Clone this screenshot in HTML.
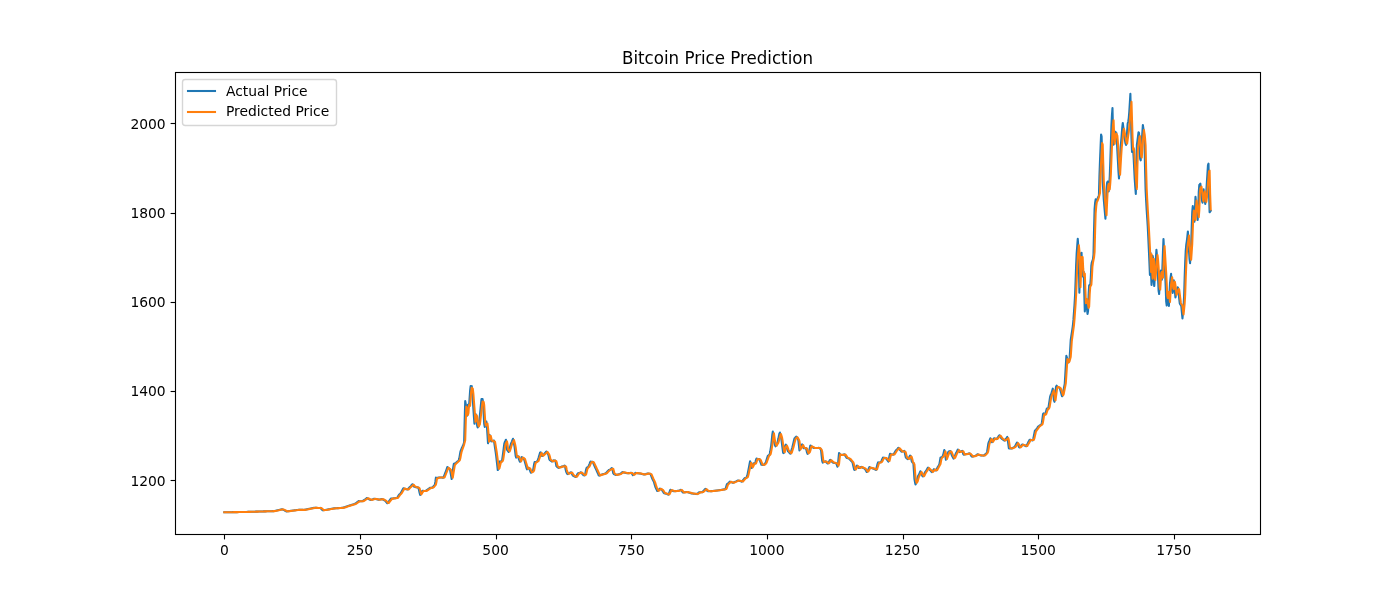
<!DOCTYPE html>
<html lang="en"><head><meta charset="utf-8"><title>Bitcoin Price Prediction</title>
<style>html,body{margin:0;padding:0;background:#fff;overflow:hidden}svg{display:block}text{font-family:"DejaVu Sans","Liberation Sans",sans-serif;fill:#000}</style></head><body>
<svg width="1400" height="600" viewBox="0 0 1400 600">
<rect width="1400" height="600" fill="#fff"/>
<clipPath id="c"><rect x="175" y="72" width="1085" height="462"/></clipPath>
<g clip-path="url(#c)" fill="none" stroke-width="2.083" stroke-linejoin="round" stroke-linecap="square">
<path stroke="#1f77b4" d="M224.32 512.28 L224.86 512.27 L225.40 512.26 L225.95 512.26 L226.49 512.25 L227.03 512.24 L227.57 512.23 L228.12 512.22 L228.66 512.22 L229.20 512.21 L229.74 512.20 L230.29 512.19 L230.83 512.19 L231.37 512.18 L231.91 512.17 L232.46 512.16 L233.00 512.15 L233.54 512.15 L234.08 512.14 L234.63 512.13 L235.17 512.12 L235.71 512.12 L236.25 512.11 L236.80 512.10 L237.34 512.09 L237.88 512.08 L238.42 512.08 L238.97 512.07 L239.51 512.06 L240.05 512.05 L240.59 512.05 L241.14 512.04 L241.68 512.03 L242.22 512.02 L242.77 512.02 L243.31 512.01 L243.85 512.00 L244.39 511.99 L244.94 511.97 L245.48 511.95 L246.02 511.94 L246.56 511.92 L247.11 511.90 L247.65 511.89 L248.19 511.87 L248.73 511.85 L249.28 511.84 L249.82 511.82 L250.36 511.80 L250.90 511.79 L251.45 511.77 L251.99 511.76 L252.53 511.74 L253.07 511.72 L253.62 511.71 L254.16 511.69 L254.70 511.67 L255.24 511.66 L255.79 511.64 L256.33 511.63 L256.87 511.61 L257.41 511.59 L257.96 511.58 L258.50 511.56 L259.04 511.54 L259.58 511.53 L260.13 511.51 L260.67 511.50 L261.21 511.48 L261.75 511.46 L262.30 511.45 L262.84 511.43 L263.38 511.41 L263.92 511.40 L264.47 511.38 L265.01 511.37 L265.55 511.35 L266.09 511.33 L266.64 511.32 L267.18 511.30 L267.72 511.28 L268.27 511.27 L268.81 511.25 L269.35 511.24 L269.89 511.22 L270.44 511.20 L270.98 511.19 L271.52 511.17 L272.06 511.16 L272.61 511.14 L273.15 511.13 L273.69 511.12 L274.23 511.05 L274.78 510.92 L275.32 510.79 L275.86 510.67 L276.40 510.55 L276.95 510.43 L277.49 510.31 L278.03 510.19 L278.57 510.08 L279.12 509.96 L279.66 509.84 L280.20 509.71 L280.74 509.57 L281.29 509.42 L281.83 509.25 L282.37 509.30 L282.91 509.60 L283.46 509.89 L284.00 510.17 L284.54 510.43 L285.08 510.69 L285.63 510.96 L286.17 511.24 L286.71 511.45 L287.25 511.35 L287.80 511.26 L288.34 511.18 L288.88 511.10 L289.42 511.03 L289.97 510.95 L290.51 510.88 L291.05 510.81 L291.59 510.74 L292.14 510.67 L292.68 510.59 L293.22 510.52 L293.77 510.45 L294.31 510.38 L294.85 510.31 L295.39 510.23 L295.94 510.16 L296.48 510.08 L297.02 510.01 L297.56 509.92 L298.11 509.87 L298.65 509.88 L299.19 509.89 L299.73 509.90 L300.28 509.90 L300.82 509.90 L301.36 509.90 L301.90 509.90 L302.45 509.90 L302.99 509.91 L303.53 509.92 L304.07 509.89 L304.62 509.77 L305.16 509.66 L305.70 509.54 L306.24 509.43 L306.79 509.32 L307.33 509.22 L307.87 509.11 L308.41 509.00 L308.96 508.89 L309.50 508.78 L310.04 508.67 L310.58 508.56 L311.13 508.46 L311.67 508.35 L312.21 508.24 L312.75 508.13 L313.30 508.01 L313.84 507.88 L314.38 507.75 L314.92 507.79 L315.47 507.83 L316.01 507.87 L316.55 507.90 L317.09 507.93 L317.64 507.96 L318.18 507.99 L318.72 508.00 L319.27 507.99 L319.81 507.96 L320.35 507.91 L320.89 508.45 L321.44 509.07 L321.98 509.65 L322.52 510.22 L323.06 510.24 L323.61 510.14 L324.15 510.06 L324.69 510.00 L325.23 509.94 L325.78 509.88 L326.32 509.78 L326.86 509.68 L327.40 509.58 L327.95 509.48 L328.49 509.38 L329.03 509.28 L329.57 509.18 L330.12 509.08 L330.66 508.99 L331.20 508.89 L331.74 508.79 L332.29 508.69 L332.83 508.59 L333.37 508.48 L333.91 508.37 L334.46 508.35 L335.00 508.32 L335.54 508.29 L336.08 508.25 L336.63 508.22 L337.17 508.18 L337.71 508.15 L338.25 508.11 L338.80 508.07 L339.34 508.04 L339.88 508.00 L340.42 507.96 L340.97 507.93 L341.51 507.90 L342.05 507.87 L342.60 507.85 L343.14 507.75 L343.68 507.55 L344.22 507.35 L344.77 507.15 L345.31 506.96 L345.85 506.77 L346.39 506.58 L346.94 506.39 L347.48 506.20 L348.02 506.01 L348.56 505.81 L349.11 505.63 L349.65 505.47 L350.19 505.31 L350.73 505.15 L351.28 504.99 L351.82 504.83 L352.36 504.66 L352.90 504.50 L353.45 504.35 L353.99 504.20 L354.53 504.05 L355.07 503.83 L355.62 503.41 L356.16 503.00 L356.70 502.59 L357.24 502.17 L357.79 501.73 L358.33 501.29 L358.87 501.07 L359.41 501.13 L359.96 501.17 L360.50 501.20 L361.04 501.21 L361.58 501.23 L362.13 501.26 L362.67 501.09 L363.21 500.70 L363.75 500.32 L364.30 499.95 L364.84 499.58 L365.38 499.19 L365.92 498.77 L366.47 498.33 L367.01 498.02 L367.55 498.38 L368.10 498.71 L368.64 499.02 L369.18 499.32 L369.72 499.60 L370.27 499.90 L370.81 500.02 L371.35 499.81 L371.89 499.62 L372.44 499.43 L372.98 499.23 L373.52 499.04 L374.06 498.83 L374.61 498.74 L375.15 498.89 L375.69 499.03 L376.23 499.15 L376.78 499.27 L377.32 499.38 L377.86 499.50 L378.40 499.63 L378.95 499.74 L379.49 499.61 L380.03 499.48 L380.57 499.34 L381.12 499.19 L381.66 499.03 L382.20 499.12 L382.74 499.45 L383.29 499.74 L383.83 500.01 L384.37 500.25 L384.91 500.48 L385.46 501.13 L386.00 501.80 L386.54 502.47 L387.08 503.16 L387.63 503.27 L388.17 502.47 L388.71 501.69 L389.25 500.94 L389.80 500.17 L390.34 499.40 L390.88 498.61 L391.42 498.57 L391.97 498.56 L392.51 498.53 L393.05 498.48 L393.60 498.40 L394.14 498.31 L394.68 498.23 L395.22 498.17 L395.77 498.11 L396.31 498.08 L396.85 498.06 L397.39 497.30 L397.94 496.45 L398.48 495.61 L399.02 494.83 L399.56 494.31 L400.11 493.77 L400.65 493.21 L401.19 492.28 L401.73 491.32 L402.28 490.31 L402.82 489.27 L403.36 488.20 L403.90 488.36 L404.45 488.62 L404.99 488.84 L405.53 489.03 L406.07 489.19 L406.62 489.37 L407.16 489.56 L407.70 489.33 L408.24 488.74 L408.79 488.16 L409.33 487.59 L409.87 487.04 L410.41 486.48 L410.96 485.88 L411.50 485.22 L412.04 484.53 L412.58 484.34 L413.13 485.30 L413.67 486.20 L414.21 486.67 L414.75 486.83 L415.30 486.98 L415.84 487.15 L416.38 487.30 L416.92 487.39 L417.47 487.41 L418.01 487.36 L418.55 488.00 L419.10 490.59 L419.64 492.99 L420.18 494.98 L420.72 493.92 L421.27 492.87 L421.81 491.84 L422.35 490.79 L422.89 490.79 L423.44 490.90 L423.98 490.98 L424.52 491.03 L425.06 491.06 L425.61 490.94 L426.15 490.55 L426.69 490.17 L427.23 489.79 L427.78 489.42 L428.32 489.05 L428.86 488.67 L429.40 488.28 L429.95 487.90 L430.49 487.84 L431.03 487.78 L431.57 487.71 L432.12 487.65 L432.66 487.30 L433.20 486.66 L433.74 486.08 L434.29 485.51 L434.83 484.94 L435.37 481.71 L435.91 477.66 L436.46 477.73 L437.00 477.79 L437.54 477.82 L438.08 477.74 L438.63 477.54 L439.17 477.44 L439.71 477.47 L440.25 477.48 L440.80 477.49 L441.34 477.50 L441.88 477.54 L442.42 477.60 L442.97 477.70 L443.51 477.54 L444.05 476.07 L444.60 474.63 L445.14 473.22 L445.68 471.78 L446.22 470.29 L446.77 468.73 L447.31 467.10 L447.85 467.41 L448.39 468.07 L448.94 468.56 L449.48 468.90 L450.02 469.32 L450.56 472.48 L451.11 475.96 L451.65 479.06 L452.19 475.14 L452.73 471.25 L453.28 467.20 L453.82 463.88 L454.36 463.78 L454.90 463.57 L455.45 463.24 L455.99 462.81 L456.53 462.29 L457.07 461.80 L457.62 461.36 L458.16 460.98 L458.70 460.62 L459.24 458.56 L459.79 455.40 L460.33 452.12 L460.87 450.41 L461.41 449.05 L461.96 447.69 L462.50 446.61 L463.04 445.62 L463.58 443.97 L464.13 442.22 L464.67 420.81 L465.21 401.04 L465.75 404.04 L466.30 409.75 L466.84 415.87 L467.38 414.06 L467.93 404.69 L468.47 406.57 L469.01 406.67 L469.55 399.00 L470.10 390.72 L470.64 386.00 L471.18 386.23 L471.72 386.17 L472.27 391.56 L472.81 400.18 L473.35 408.42 L473.89 416.38 L474.44 423.79 L474.98 419.09 L475.52 414.00 L476.06 415.30 L476.61 420.54 L477.15 425.67 L477.69 427.52 L478.23 426.32 L478.78 425.26 L479.32 421.00 L479.86 415.66 L480.40 410.15 L480.95 404.34 L481.49 399.08 L482.03 399.24 L482.57 399.09 L483.12 403.04 L483.66 413.98 L484.20 423.91 L484.74 426.94 L485.29 425.41 L485.83 423.45 L486.37 421.56 L486.91 426.42 L487.46 434.59 L488.00 443.25 L488.54 439.85 L489.08 436.34 L489.63 434.87 L490.17 437.53 L490.71 440.35 L491.25 441.34 L491.80 441.33 L492.34 441.22 L492.88 440.93 L493.43 440.60 L493.97 440.58 L494.51 444.42 L495.05 448.09 L495.60 451.60 L496.14 455.66 L496.68 460.37 L497.22 465.16 L497.77 470.07 L498.31 469.41 L498.85 466.68 L499.39 464.02 L499.94 461.38 L500.48 461.51 L501.02 461.63 L501.56 461.70 L502.11 460.35 L502.65 456.34 L503.19 452.34 L503.73 448.16 L504.28 443.84 L504.82 442.01 L505.36 440.96 L505.90 439.73 L506.45 443.60 L506.99 449.54 L507.53 450.33 L508.07 451.15 L508.62 451.99 L509.16 450.36 L509.70 448.30 L510.24 446.27 L510.79 444.17 L511.33 442.82 L511.87 441.56 L512.41 440.13 L512.96 438.82 L513.50 441.33 L514.04 443.72 L514.58 446.85 L515.13 451.44 L515.67 455.85 L516.21 457.58 L516.75 457.10 L517.30 456.63 L517.84 456.06 L518.38 457.42 L518.93 459.11 L519.47 460.72 L520.01 461.78 L520.55 460.30 L521.10 458.80 L521.64 457.17 L522.18 457.37 L522.72 457.83 L523.27 458.17 L523.81 458.40 L524.35 460.07 L524.89 462.08 L525.44 464.09 L525.98 466.05 L526.52 468.01 L527.06 469.32 L527.61 468.82 L528.15 468.30 L528.69 467.68 L529.23 468.33 L529.78 469.87 L530.32 471.30 L530.86 472.72 L531.40 472.44 L531.95 472.05 L532.49 471.71 L533.03 470.78 L533.57 467.53 L534.12 464.07 L534.66 462.10 L535.20 462.02 L535.74 461.95 L536.29 461.79 L536.83 461.54 L537.37 461.28 L537.91 459.75 L538.46 458.11 L539.00 456.37 L539.54 454.52 L540.08 452.65 L540.63 452.23 L541.17 454.07 L541.71 455.72 L542.25 455.94 L542.80 455.34 L543.34 454.74 L543.88 454.18 L544.43 453.64 L544.97 453.06 L545.51 452.43 L546.05 451.74 L546.60 451.58 L547.14 452.55 L547.68 453.46 L548.22 454.33 L548.77 456.54 L549.31 459.29 L549.85 460.09 L550.39 460.45 L550.94 460.84 L551.48 461.27 L552.02 461.57 L552.56 461.11 L553.11 460.62 L553.65 460.36 L554.19 460.43 L554.73 460.50 L555.28 460.52 L555.82 462.95 L556.36 465.99 L556.90 466.68 L557.45 467.12 L557.99 467.58 L558.53 467.90 L559.07 467.64 L559.62 467.39 L560.16 467.16 L560.70 466.93 L561.24 466.72 L561.79 466.49 L562.33 466.42 L562.87 466.36 L563.41 466.19 L563.96 465.93 L564.50 465.63 L565.04 466.12 L565.58 469.34 L566.13 471.62 L566.67 472.77 L567.21 473.92 L567.76 474.09 L568.30 473.74 L568.84 473.43 L569.38 473.12 L569.93 472.78 L570.47 472.42 L571.01 472.27 L571.55 473.27 L572.10 474.25 L572.64 475.16 L573.18 475.73 L573.72 475.99 L574.27 476.29 L574.81 476.62 L575.35 476.99 L575.89 476.93 L576.44 475.96 L576.98 474.99 L577.52 473.97 L578.06 473.21 L578.61 473.13 L579.15 473.00 L579.69 472.82 L580.23 472.58 L580.78 472.29 L581.32 472.71 L581.86 473.37 L582.40 474.00 L582.95 474.62 L583.49 475.20 L584.03 475.28 L584.57 475.40 L585.12 474.49 L585.66 471.83 L586.20 469.04 L586.74 467.72 L587.29 467.41 L587.83 467.10 L588.37 466.66 L588.91 465.43 L589.46 464.06 L590.00 462.62 L590.54 461.56 L591.08 461.75 L591.63 461.85 L592.17 461.86 L592.71 461.77 L593.26 463.09 L593.80 464.37 L594.34 465.61 L594.88 466.80 L595.43 467.95 L595.97 469.10 L596.51 470.28 L597.05 471.48 L597.60 472.70 L598.14 473.96 L598.68 475.24 L599.22 475.63 L599.77 475.34 L600.31 475.09 L600.85 474.86 L601.39 474.67 L601.94 474.48 L602.48 474.33 L603.02 474.18 L603.56 474.03 L604.11 473.89 L604.65 473.76 L605.19 473.63 L605.73 473.25 L606.28 472.67 L606.82 472.11 L607.36 471.54 L607.90 470.97 L608.45 470.39 L608.99 469.86 L609.53 469.65 L610.07 469.40 L610.62 469.06 L611.16 468.61 L611.70 468.12 L612.24 468.36 L612.79 470.98 L613.33 473.40 L613.87 473.99 L614.41 474.25 L614.96 474.51 L615.50 474.83 L616.04 475.06 L616.58 474.88 L617.13 474.72 L617.67 474.57 L618.21 474.43 L618.76 474.30 L619.30 474.18 L619.84 474.07 L620.38 473.70 L620.93 473.27 L621.47 472.82 L622.01 472.35 L622.55 472.05 L623.10 472.25 L623.64 472.42 L624.18 472.58 L624.72 472.71 L625.27 472.83 L625.81 472.96 L626.35 473.09 L626.89 473.22 L627.44 473.19 L627.98 473.16 L628.52 473.13 L629.06 473.10 L629.61 473.06 L630.15 472.99 L630.69 472.88 L631.23 472.79 L631.78 473.39 L632.32 474.28 L632.86 475.15 L633.40 474.76 L633.95 474.24 L634.49 473.72 L635.03 473.17 L635.57 472.85 L636.12 472.98 L636.66 473.09 L637.20 473.18 L637.74 473.26 L638.29 473.31 L638.83 473.37 L639.37 473.42 L639.91 473.47 L640.46 473.62 L641.00 473.76 L641.54 473.90 L642.08 474.04 L642.63 474.19 L643.17 474.34 L643.71 474.50 L644.26 474.46 L644.80 474.30 L645.34 474.15 L645.88 474.01 L646.43 473.85 L646.97 473.69 L647.51 473.52 L648.05 473.44 L648.60 473.60 L649.14 473.71 L649.68 473.76 L650.22 473.76 L650.77 474.72 L651.31 476.18 L651.85 477.61 L652.39 478.96 L652.94 479.99 L653.48 480.97 L654.02 482.15 L654.56 484.13 L655.11 486.05 L655.65 487.61 L656.19 488.71 L656.73 489.85 L657.28 491.04 L657.82 490.88 L658.36 490.27 L658.90 489.67 L659.45 489.02 L659.99 488.54 L660.53 488.96 L661.07 489.33 L661.62 489.64 L662.16 490.23 L662.70 491.15 L663.24 492.04 L663.79 492.93 L664.33 493.23 L664.87 493.37 L665.41 493.52 L665.96 493.68 L666.50 493.87 L667.04 494.10 L667.59 494.36 L668.13 494.65 L668.67 494.15 L669.21 492.77 L669.76 491.30 L670.30 489.79 L670.84 489.77 L671.38 490.13 L671.93 490.44 L672.47 490.70 L673.01 490.91 L673.55 491.11 L674.10 491.23 L674.64 491.16 L675.18 491.10 L675.72 491.04 L676.27 490.99 L676.81 490.94 L677.35 490.90 L677.89 490.86 L678.44 490.82 L678.98 490.63 L679.52 490.40 L680.06 490.13 L680.61 489.84 L681.15 490.04 L681.69 490.88 L682.23 491.69 L682.78 492.46 L683.32 492.56 L683.86 492.44 L684.40 492.34 L684.95 492.25 L685.49 492.16 L686.03 492.07 L686.57 491.97 L687.12 491.98 L687.66 492.18 L688.20 492.36 L688.74 492.54 L689.29 492.71 L689.83 492.87 L690.37 493.04 L690.91 493.21 L691.46 493.38 L692.00 493.53 L692.54 493.57 L693.09 493.62 L693.63 493.67 L694.17 493.72 L694.71 493.78 L695.26 493.84 L695.80 493.92 L696.34 494.00 L696.88 494.09 L697.43 493.67 L697.97 493.21 L698.51 492.73 L699.05 492.36 L699.60 492.33 L700.14 492.29 L700.68 492.25 L701.22 492.20 L701.77 492.15 L702.31 492.11 L702.85 491.63 L703.39 491.05 L703.94 490.44 L704.48 489.78 L705.02 489.09 L705.56 488.78 L706.11 489.51 L706.65 490.22 L707.19 490.85 L707.73 491.10 L708.28 491.10 L708.82 491.10 L709.36 491.12 L709.90 491.15 L710.45 491.19 L710.99 491.21 L711.53 491.14 L712.07 491.07 L712.62 491.00 L713.16 490.94 L713.70 490.87 L714.24 490.81 L714.79 490.75 L715.33 490.68 L715.87 490.62 L716.41 490.56 L716.96 490.49 L717.50 490.42 L718.04 490.34 L718.59 490.26 L719.13 490.19 L719.67 490.11 L720.21 490.04 L720.76 489.96 L721.30 489.89 L721.84 489.82 L722.38 489.70 L722.93 489.57 L723.47 489.46 L724.01 489.38 L724.55 489.34 L725.10 489.31 L725.64 488.55 L726.18 486.73 L726.72 484.82 L727.27 483.89 L727.81 483.51 L728.35 483.10 L728.89 482.61 L729.44 482.06 L729.98 481.57 L730.52 481.85 L731.06 482.12 L731.61 482.37 L732.15 482.59 L732.69 482.80 L733.23 482.72 L733.78 482.44 L734.32 482.17 L734.86 481.91 L735.40 481.65 L735.95 481.40 L736.49 481.13 L737.03 480.84 L737.57 480.54 L738.12 480.42 L738.66 480.61 L739.20 480.79 L739.74 480.95 L740.29 481.11 L740.83 481.28 L741.37 481.47 L741.91 481.67 L742.46 480.95 L743.00 480.24 L743.54 479.52 L744.09 478.80 L744.63 478.26 L745.17 478.05 L745.71 477.83 L746.26 477.65 L746.80 477.51 L747.34 475.34 L747.88 472.64 L748.43 469.88 L748.97 467.10 L749.51 464.25 L750.05 461.36 L750.60 463.31 L751.14 465.78 L751.68 467.90 L752.22 466.63 L752.77 465.08 L753.31 463.49 L753.85 463.37 L754.39 463.61 L754.94 463.69 L755.48 461.87 L756.02 459.89 L756.56 458.49 L757.11 458.77 L757.65 459.00 L758.19 459.12 L758.73 459.13 L759.28 459.04 L759.82 460.22 L760.36 461.83 L760.90 463.35 L761.45 464.77 L761.99 464.83 L762.53 464.92 L763.07 465.05 L763.62 464.94 L764.16 464.38 L764.70 463.85 L765.24 463.37 L765.79 462.11 L766.33 460.50 L766.87 458.86 L767.41 457.19 L767.96 455.68 L768.50 455.38 L769.04 454.99 L769.59 454.67 L770.13 452.05 L770.67 448.72 L771.21 445.30 L771.76 440.40 L772.30 434.69 L772.84 431.50 L773.38 436.46 L773.93 441.25 L774.47 443.19 L775.01 445.21 L775.55 446.37 L776.10 445.18 L776.64 444.13 L777.18 443.17 L777.72 441.46 L778.27 439.11 L778.81 436.53 L779.35 433.78 L779.89 432.57 L780.44 434.65 L780.98 436.52 L781.52 440.32 L782.06 444.72 L782.61 448.84 L783.15 452.84 L783.69 453.08 L784.23 449.69 L784.78 446.41 L785.32 445.43 L785.86 444.54 L786.40 446.29 L786.95 448.19 L787.49 449.91 L788.03 451.30 L788.57 451.80 L789.12 452.37 L789.66 453.01 L790.20 453.72 L790.74 452.82 L791.29 450.90 L791.83 449.04 L792.37 447.24 L792.92 445.00 L793.46 442.64 L794.00 440.24 L794.54 438.26 L795.09 437.86 L795.63 437.33 L796.17 436.68 L796.71 436.98 L797.26 438.03 L797.80 439.10 L798.34 440.18 L798.88 445.21 L799.43 450.43 L799.97 449.20 L800.51 447.97 L801.05 446.72 L801.60 445.37 L802.14 444.33 L802.68 446.03 L803.22 447.63 L803.77 448.21 L804.31 448.24 L804.85 448.15 L805.39 448.03 L805.94 448.06 L806.48 450.34 L807.02 452.46 L807.56 453.85 L808.11 453.24 L808.65 452.64 L809.19 451.08 L809.73 448.50 L810.28 445.81 L810.82 445.58 L811.36 446.18 L811.90 446.71 L812.45 447.15 L812.99 447.50 L813.53 447.83 L814.07 448.06 L814.62 448.03 L815.16 448.01 L815.70 448.00 L816.24 448.00 L816.79 448.00 L817.33 447.97 L817.87 447.93 L818.42 447.86 L818.96 447.78 L819.50 448.20 L820.04 448.45 L820.59 448.64 L821.13 450.84 L821.67 456.11 L822.21 461.03 L822.76 462.63 L823.30 462.26 L823.84 461.92 L824.38 461.67 L824.93 461.45 L825.47 461.34 L826.01 461.88 L826.55 462.43 L827.10 462.96 L827.64 463.51 L828.18 463.29 L828.72 462.29 L829.27 461.22 L829.81 460.11 L830.35 459.78 L830.89 460.45 L831.44 461.09 L831.98 461.67 L832.52 462.20 L833.06 462.61 L833.61 462.73 L834.15 462.87 L834.69 462.98 L835.23 463.05 L835.78 463.19 L836.32 463.52 L836.86 464.97 L837.40 466.66 L837.95 464.93 L838.49 458.50 L839.03 453.11 L839.57 453.61 L840.12 454.15 L840.66 454.64 L841.20 454.90 L841.74 455.01 L842.29 454.95 L842.83 454.80 L843.37 454.60 L843.92 454.37 L844.46 454.22 L845.00 455.21 L845.54 456.18 L846.09 457.08 L846.63 457.71 L847.17 457.93 L847.71 458.17 L848.26 458.39 L848.80 458.61 L849.34 458.83 L849.88 459.45 L850.43 460.11 L850.97 460.70 L851.51 461.22 L852.05 461.68 L852.60 462.78 L853.14 465.20 L853.68 467.49 L854.22 469.81 L854.77 469.91 L855.31 468.80 L855.85 467.71 L856.39 466.53 L856.94 465.49 L857.48 466.29 L858.02 467.06 L858.56 467.74 L859.11 468.07 L859.65 467.78 L860.19 467.50 L860.73 467.18 L861.28 466.87 L861.82 467.09 L862.36 467.46 L862.90 467.81 L863.45 468.12 L863.99 468.39 L864.53 468.64 L865.07 469.11 L865.62 470.08 L866.16 471.03 L866.70 472.01 L867.24 471.71 L867.79 470.57 L868.33 469.44 L868.87 468.24 L869.42 467.06 L869.96 467.39 L870.50 467.68 L871.04 467.92 L871.59 468.12 L872.13 468.27 L872.67 468.42 L873.21 468.59 L873.76 468.78 L874.30 469.00 L874.84 469.27 L875.38 469.58 L875.93 469.88 L876.47 467.90 L877.01 465.91 L877.55 463.80 L878.10 462.40 L878.64 462.45 L879.18 462.46 L879.72 462.42 L880.27 462.32 L880.81 462.22 L881.35 461.23 L881.89 460.02 L882.44 458.73 L882.98 457.60 L883.52 457.75 L884.06 457.84 L884.61 457.87 L885.15 457.83 L885.69 458.11 L886.23 458.72 L886.78 459.40 L887.32 460.09 L887.86 460.82 L888.40 461.55 L888.95 458.89 L889.49 456.06 L890.03 453.78 L890.57 454.01 L891.12 454.26 L891.66 454.45 L892.20 454.55 L892.75 454.60 L893.29 454.67 L893.83 453.97 L894.37 453.03 L894.92 452.10 L895.46 451.15 L896.00 450.29 L896.54 449.78 L897.09 449.20 L897.63 448.56 L898.17 447.87 L898.71 447.99 L899.26 448.78 L899.80 449.55 L900.34 450.28 L900.88 450.96 L901.43 451.64 L901.97 451.58 L902.51 451.52 L903.05 451.35 L903.60 451.12 L904.14 450.88 L904.68 452.05 L905.22 454.71 L905.77 457.16 L906.31 458.07 L906.85 458.42 L907.39 458.81 L907.94 459.21 L908.48 458.43 L909.02 457.59 L909.56 456.59 L910.11 455.55 L910.65 456.14 L911.19 458.84 L911.73 461.24 L912.28 462.21 L912.82 462.48 L913.36 462.69 L913.90 470.83 L914.45 479.07 L914.99 482.18 L915.53 484.50 L916.07 483.37 L916.62 481.77 L917.16 479.37 L917.70 477.07 L918.25 475.64 L918.79 474.69 L919.33 473.65 L919.87 472.50 L920.42 471.24 L920.96 472.55 L921.50 473.87 L922.04 475.08 L922.59 476.25 L923.13 476.45 L923.67 475.19 L924.21 473.97 L924.76 472.77 L925.30 471.85 L925.84 471.06 L926.38 470.21 L926.93 469.29 L927.47 468.31 L928.01 467.60 L928.55 468.35 L929.10 469.04 L929.64 469.68 L930.18 470.29 L930.72 470.88 L931.27 471.50 L931.81 472.14 L932.35 471.61 L932.89 470.80 L933.44 469.92 L933.98 469.21 L934.52 469.69 L935.06 470.14 L935.61 470.54 L936.15 470.30 L936.69 469.19 L937.23 468.11 L937.78 467.10 L938.32 466.16 L938.86 465.22 L939.40 464.27 L939.95 460.92 L940.49 457.76 L941.03 457.46 L941.57 457.18 L942.12 456.88 L942.66 456.40 L943.20 454.97 L943.75 452.48 L944.29 450.03 L944.83 452.48 L945.37 456.31 L945.92 459.82 L946.46 458.03 L947.00 456.20 L947.54 454.39 L948.09 452.51 L948.63 451.45 L949.17 451.40 L949.71 451.24 L950.26 450.98 L950.80 452.14 L951.34 453.85 L951.88 455.51 L952.43 456.52 L952.97 457.52 L953.51 458.57 L954.05 458.08 L954.60 456.68 L955.14 455.32 L955.68 453.97 L956.22 452.81 L956.77 451.78 L957.31 450.67 L957.85 449.53 L958.39 450.33 L958.94 451.36 L959.48 452.12 L960.02 451.94 L960.56 451.72 L961.11 451.41 L961.65 451.10 L962.19 450.81 L962.73 452.06 L963.28 454.23 L963.82 454.65 L964.36 454.50 L964.90 454.35 L965.45 454.22 L965.99 454.13 L966.53 454.06 L967.07 453.97 L967.62 453.84 L968.16 453.68 L968.70 453.49 L969.25 453.27 L969.79 453.73 L970.33 454.51 L970.87 455.27 L971.42 456.00 L971.96 456.65 L972.50 456.50 L973.04 456.36 L973.59 456.25 L974.13 456.15 L974.67 456.08 L975.21 455.86 L975.76 455.51 L976.30 455.13 L976.84 454.74 L977.38 454.33 L977.93 454.53 L978.47 454.74 L979.01 454.94 L979.55 455.12 L980.10 455.28 L980.64 455.45 L981.18 455.53 L981.72 455.51 L982.27 455.52 L982.81 455.53 L983.35 455.57 L983.89 455.62 L984.44 455.05 L984.98 454.50 L985.52 454.02 L986.06 453.61 L986.61 453.24 L987.15 451.48 L987.69 447.89 L988.23 444.12 L988.78 442.08 L989.32 440.88 L989.86 439.59 L990.40 438.22 L990.95 439.81 L991.49 441.30 L992.03 442.14 L992.58 441.04 L993.12 439.90 L993.66 438.67 L994.20 438.23 L994.75 438.51 L995.29 438.77 L995.83 438.96 L996.37 439.15 L996.92 438.52 L997.46 437.82 L998.00 437.08 L998.54 436.28 L999.09 435.46 L999.63 435.36 L1000.17 436.40 L1000.71 437.41 L1001.26 438.33 L1001.80 438.83 L1002.34 439.16 L1002.88 439.52 L1003.43 439.91 L1003.97 440.32 L1004.51 440.59 L1005.05 440.06 L1005.60 439.49 L1006.14 438.72 L1006.68 437.83 L1007.22 436.92 L1007.77 439.55 L1008.31 444.03 L1008.85 448.16 L1009.39 448.57 L1009.94 448.48 L1010.48 448.44 L1011.02 448.49 L1011.56 448.50 L1012.11 448.20 L1012.65 447.91 L1013.19 447.65 L1013.73 447.40 L1014.28 447.17 L1014.82 446.48 L1015.36 445.61 L1015.90 444.64 L1016.45 443.61 L1016.99 442.52 L1017.53 443.35 L1018.08 444.74 L1018.62 446.04 L1019.16 447.28 L1019.70 447.49 L1020.25 446.82 L1020.79 446.17 L1021.33 445.50 L1021.87 444.83 L1022.42 444.52 L1022.96 444.80 L1023.50 445.05 L1024.04 445.27 L1024.59 445.49 L1025.13 445.72 L1025.67 445.97 L1026.21 446.25 L1026.76 445.20 L1027.30 444.16 L1027.84 443.14 L1028.38 442.08 L1028.93 441.02 L1029.47 439.92 L1030.01 439.73 L1030.55 439.86 L1031.10 440.00 L1031.64 440.11 L1032.18 440.26 L1032.72 440.45 L1033.27 438.82 L1033.81 436.22 L1034.35 433.54 L1034.89 430.81 L1035.44 430.19 L1035.98 429.62 L1036.52 428.98 L1037.06 428.26 L1037.61 427.47 L1038.15 426.67 L1038.69 426.24 L1039.23 425.85 L1039.78 425.49 L1040.32 425.17 L1040.86 424.91 L1041.40 424.67 L1041.95 422.23 L1042.49 418.31 L1043.03 414.16 L1043.58 413.31 L1044.12 414.14 L1044.66 414.79 L1045.20 414.10 L1045.75 412.29 L1046.29 410.43 L1046.83 408.63 L1047.37 408.77 L1047.92 409.14 L1048.46 407.75 L1049.00 404.21 L1049.54 400.60 L1050.09 396.87 L1050.63 395.16 L1051.17 393.86 L1051.71 392.23 L1052.26 390.43 L1052.80 388.66 L1053.34 393.72 L1053.88 399.96 L1054.43 401.83 L1054.97 396.95 L1055.51 392.01 L1056.05 386.66 L1056.60 385.63 L1057.14 386.39 L1057.68 386.96 L1058.22 387.31 L1058.77 387.43 L1059.31 387.44 L1059.85 388.26 L1060.39 390.24 L1060.94 392.22 L1061.48 394.20 L1062.02 396.24 L1062.56 394.99 L1063.11 392.07 L1063.65 389.33 L1064.19 386.74 L1064.73 383.96 L1065.28 375.13 L1065.82 365.57 L1066.36 355.88 L1066.90 357.52 L1067.45 360.34 L1067.99 362.74 L1068.53 361.87 L1069.08 360.00 L1069.62 358.23 L1070.16 349.61 L1070.70 340.19 L1071.25 336.43 L1071.79 332.89 L1072.33 329.35 L1072.87 325.77 L1073.42 319.90 L1073.96 312.30 L1074.50 304.84 L1075.04 295.68 L1075.59 280.93 L1076.13 265.04 L1076.67 253.41 L1077.21 245.99 L1077.76 238.80 L1078.30 246.95 L1078.84 260.78 L1079.38 292.79 L1079.93 274.82 L1080.47 254.14 L1081.01 253.26 L1081.55 252.75 L1082.10 268.13 L1082.64 276.36 L1083.18 271.73 L1083.72 272.00 L1084.27 292.94 L1084.81 311.50 L1085.35 305.93 L1085.89 300.34 L1086.44 302.93 L1086.98 308.30 L1087.52 314.00 L1088.06 311.10 L1088.61 294.83 L1089.15 285.23 L1089.69 285.65 L1090.23 285.65 L1090.78 277.91 L1091.32 265.62 L1091.86 262.28 L1092.40 260.84 L1092.95 259.33 L1093.49 254.59 L1094.03 229.79 L1094.58 208.98 L1095.12 202.57 L1095.66 199.36 L1096.20 199.93 L1096.75 199.73 L1097.29 199.23 L1097.83 198.02 L1098.37 196.74 L1098.92 195.62 L1099.46 175.46 L1100.00 160.54 L1100.54 147.71 L1101.09 134.48 L1101.63 136.45 L1102.17 161.56 L1102.71 182.51 L1103.26 191.14 L1103.80 199.82 L1104.34 206.21 L1104.88 212.45 L1105.43 218.68 L1105.97 204.04 L1106.51 190.15 L1107.05 182.94 L1107.60 181.54 L1108.14 190.61 L1108.68 191.48 L1109.22 184.94 L1109.77 175.97 L1110.31 160.75 L1110.85 144.54 L1111.39 126.36 L1111.94 115.35 L1112.48 108.00 L1113.02 130.90 L1113.56 144.69 L1114.11 140.64 L1114.65 134.98 L1115.19 131.66 L1115.73 132.15 L1116.28 132.65 L1116.82 140.40 L1117.36 150.94 L1117.91 160.95 L1118.45 171.07 L1118.99 178.34 L1119.53 167.17 L1120.08 156.32 L1120.62 147.16 L1121.16 141.30 L1121.70 134.93 L1122.25 127.43 L1122.79 123.00 L1123.33 127.14 L1123.87 132.52 L1124.42 137.12 L1124.96 140.28 L1125.50 143.48 L1126.04 144.94 L1126.59 138.76 L1127.13 131.03 L1127.67 123.50 L1128.21 121.71 L1128.76 118.10 L1129.30 111.60 L1129.84 102.70 L1130.38 93.72 L1130.93 116.91 L1131.47 138.30 L1132.01 152.06 L1132.55 148.58 L1133.10 148.36 L1133.64 157.75 L1134.18 168.39 L1134.72 179.17 L1135.27 187.25 L1135.81 193.98 L1136.35 165.80 L1136.89 144.60 L1137.44 140.53 L1137.98 136.32 L1138.52 132.29 L1139.06 132.85 L1139.61 146.61 L1140.15 158.95 L1140.69 160.35 L1141.23 151.08 L1141.78 141.51 L1142.32 133.15 L1142.86 124.99 L1143.41 128.56 L1143.95 132.75 L1144.49 139.76 L1145.03 168.05 L1145.58 189.68 L1146.12 200.40 L1146.66 209.99 L1147.20 218.29 L1147.75 226.59 L1148.29 237.72 L1148.83 249.17 L1149.37 261.75 L1149.92 274.90 L1150.46 252.68 L1151.00 272.97 L1151.54 285.00 L1152.09 270.98 L1152.63 255.90 L1153.17 258.71 L1153.71 281.50 L1154.26 286.00 L1154.80 277.29 L1155.34 268.20 L1155.88 258.46 L1156.43 249.91 L1156.97 255.95 L1157.51 265.86 L1158.05 278.61 L1158.60 290.92 L1159.14 294.00 L1159.68 282.95 L1160.22 271.56 L1160.77 270.65 L1161.31 275.56 L1161.85 279.80 L1162.39 267.94 L1162.94 252.19 L1163.48 238.98 L1164.02 250.24 L1164.56 261.53 L1165.11 272.62 L1165.65 285.62 L1166.19 301.69 L1166.73 305.50 L1167.28 296.66 L1167.82 292.93 L1168.36 298.82 L1168.91 306.00 L1169.45 294.84 L1169.99 283.45 L1170.53 278.30 L1171.08 273.87 L1171.62 282.20 L1172.16 290.93 L1172.70 293.00 L1173.25 287.06 L1173.79 280.35 L1174.33 283.74 L1174.87 290.90 L1175.42 297.50 L1175.96 295.05 L1176.50 292.43 L1177.04 289.74 L1177.59 287.19 L1178.13 287.89 L1178.67 293.32 L1179.21 298.52 L1179.76 303.27 L1180.30 304.58 L1180.84 304.61 L1181.38 306.82 L1181.93 313.02 L1182.47 318.50 L1183.01 312.18 L1183.55 306.10 L1184.10 296.20 L1184.64 278.08 L1185.18 262.62 L1185.72 250.83 L1186.27 244.61 L1186.81 241.05 L1187.35 236.58 L1187.89 231.45 L1188.44 240.67 L1188.98 250.12 L1189.52 259.07 L1190.06 263.20 L1190.61 254.21 L1191.15 245.34 L1191.69 227.51 L1192.23 212.16 L1192.78 206.07 L1193.32 210.03 L1193.86 216.50 L1194.41 221.73 L1194.95 208.93 L1195.49 196.83 L1196.03 202.46 L1196.58 208.85 L1197.12 214.50 L1197.66 219.93 L1198.20 212.20 L1198.75 192.15 L1199.29 184.98 L1199.83 184.28 L1200.37 183.67 L1200.92 189.78 L1201.46 195.58 L1202.00 200.80 L1202.54 202.66 L1203.09 193.53 L1203.63 189.35 L1204.17 194.28 L1204.71 199.14 L1205.26 203.91 L1205.80 199.51 L1206.34 191.29 L1206.88 182.04 L1207.43 173.45 L1207.97 165.10 L1208.51 163.69 L1209.05 194.59 L1209.60 212.31 L1210.14 211.59 L1210.68 210.75"/>
<path stroke="#ff7f0e" d="M224.32 512.29 L224.86 512.29 L225.40 512.28 L225.95 512.27 L226.49 512.26 L227.03 512.25 L227.57 512.25 L228.12 512.24 L228.66 512.23 L229.20 512.22 L229.74 512.22 L230.29 512.21 L230.83 512.20 L231.37 512.19 L231.91 512.19 L232.46 512.18 L233.00 512.17 L233.54 512.16 L234.08 512.15 L234.63 512.15 L235.17 512.14 L235.71 512.13 L236.25 512.12 L236.80 512.12 L237.34 512.11 L237.88 512.10 L238.42 512.09 L238.97 512.08 L239.51 512.08 L240.05 512.07 L240.59 512.06 L241.14 512.05 L241.68 512.05 L242.22 512.04 L242.77 512.03 L243.31 512.02 L243.85 512.01 L244.39 512.01 L244.94 512.00 L245.48 511.98 L246.02 511.97 L246.56 511.95 L247.11 511.94 L247.65 511.92 L248.19 511.90 L248.73 511.89 L249.28 511.87 L249.82 511.85 L250.36 511.84 L250.90 511.82 L251.45 511.80 L251.99 511.79 L252.53 511.77 L253.07 511.76 L253.62 511.74 L254.16 511.72 L254.70 511.71 L255.24 511.69 L255.79 511.67 L256.33 511.66 L256.87 511.64 L257.41 511.63 L257.96 511.61 L258.50 511.59 L259.04 511.58 L259.58 511.56 L260.13 511.54 L260.67 511.53 L261.21 511.51 L261.75 511.50 L262.30 511.48 L262.84 511.46 L263.38 511.45 L263.92 511.43 L264.47 511.41 L265.01 511.40 L265.55 511.38 L266.09 511.37 L266.64 511.35 L267.18 511.33 L267.72 511.32 L268.27 511.30 L268.81 511.28 L269.35 511.27 L269.89 511.25 L270.44 511.24 L270.98 511.22 L271.52 511.20 L272.06 511.19 L272.61 511.17 L273.15 511.15 L273.69 511.14 L274.23 511.12 L274.78 511.10 L275.32 511.03 L275.86 510.91 L276.40 510.79 L276.95 510.67 L277.49 510.55 L278.03 510.43 L278.57 510.31 L279.12 510.19 L279.66 510.08 L280.20 509.96 L280.74 509.84 L281.29 509.72 L281.83 509.60 L282.37 509.48 L282.91 509.36 L283.46 509.42 L284.00 509.67 L284.54 509.92 L285.08 510.18 L285.63 510.43 L286.17 510.68 L286.71 510.94 L287.25 511.19 L287.80 511.39 L288.34 511.31 L288.88 511.24 L289.42 511.17 L289.97 511.10 L290.51 511.03 L291.05 510.95 L291.59 510.88 L292.14 510.81 L292.68 510.74 L293.22 510.67 L293.77 510.59 L294.31 510.52 L294.85 510.45 L295.39 510.38 L295.94 510.31 L296.48 510.23 L297.02 510.16 L297.56 510.09 L298.11 510.02 L298.65 509.94 L299.19 509.90 L299.73 509.90 L300.28 509.90 L300.82 509.90 L301.36 509.90 L301.90 509.90 L302.45 509.90 L302.99 509.90 L303.53 509.90 L304.07 509.90 L304.62 509.90 L305.16 509.87 L305.70 509.76 L306.24 509.65 L306.79 509.54 L307.33 509.43 L307.87 509.32 L308.41 509.22 L308.96 509.11 L309.50 509.00 L310.04 508.89 L310.58 508.78 L311.13 508.67 L311.67 508.56 L312.21 508.46 L312.75 508.35 L313.30 508.24 L313.84 508.13 L314.38 508.02 L314.92 507.91 L315.47 507.80 L316.01 507.82 L316.55 507.85 L317.09 507.88 L317.64 507.91 L318.18 507.93 L318.72 507.96 L319.27 507.99 L319.81 508.01 L320.35 508.04 L320.89 508.07 L321.44 508.09 L321.98 508.55 L322.52 509.07 L323.06 509.59 L323.61 510.11 L324.15 510.15 L324.69 510.10 L325.23 510.04 L325.78 509.99 L326.32 509.94 L326.86 509.87 L327.40 509.77 L327.95 509.67 L328.49 509.57 L329.03 509.48 L329.57 509.38 L330.12 509.28 L330.66 509.18 L331.20 509.08 L331.74 508.99 L332.29 508.89 L332.83 508.79 L333.37 508.69 L333.91 508.59 L334.46 508.50 L335.00 508.40 L335.54 508.36 L336.08 508.33 L336.63 508.29 L337.17 508.25 L337.71 508.22 L338.25 508.18 L338.80 508.15 L339.34 508.11 L339.88 508.07 L340.42 508.04 L340.97 508.00 L341.51 507.96 L342.05 507.93 L342.60 507.89 L343.14 507.86 L343.68 507.82 L344.22 507.72 L344.77 507.53 L345.31 507.34 L345.85 507.15 L346.39 506.96 L346.94 506.77 L347.48 506.58 L348.02 506.39 L348.56 506.20 L349.11 506.01 L349.65 505.82 L350.19 505.64 L350.73 505.48 L351.28 505.32 L351.82 505.15 L352.36 504.99 L352.90 504.83 L353.45 504.66 L353.99 504.50 L354.53 504.34 L355.07 504.18 L355.62 504.01 L356.16 503.78 L356.70 503.39 L357.24 502.99 L357.79 502.59 L358.33 502.20 L358.87 501.80 L359.41 501.41 L359.96 501.20 L360.50 501.20 L361.04 501.20 L361.58 501.20 L362.13 501.20 L362.67 501.20 L363.21 501.20 L363.75 501.03 L364.30 500.67 L364.84 500.31 L365.38 499.94 L365.92 499.58 L366.47 499.22 L367.01 498.86 L367.55 498.50 L368.10 498.24 L368.64 498.51 L369.18 498.77 L369.72 499.04 L370.27 499.30 L370.81 499.56 L371.35 499.83 L371.89 499.94 L372.44 499.77 L372.98 499.59 L373.52 499.42 L374.06 499.25 L374.61 499.08 L375.15 498.91 L375.69 498.84 L376.23 498.94 L376.78 499.05 L377.32 499.16 L377.86 499.27 L378.40 499.38 L378.95 499.49 L379.49 499.60 L380.03 499.69 L380.57 499.58 L381.12 499.47 L381.66 499.37 L382.20 499.26 L382.74 499.15 L383.29 499.24 L383.83 499.51 L384.37 499.78 L384.91 500.06 L385.46 500.33 L386.00 500.60 L386.54 501.18 L387.08 501.77 L387.63 502.36 L388.17 502.94 L388.71 503.03 L389.25 502.33 L389.80 501.63 L390.34 500.93 L390.88 500.24 L391.42 499.54 L391.97 498.84 L392.51 498.72 L393.05 498.64 L393.60 498.56 L394.14 498.48 L394.68 498.40 L395.22 498.31 L395.77 498.23 L396.31 498.15 L396.85 498.07 L397.39 497.99 L397.94 497.91 L398.48 497.21 L399.02 496.42 L399.56 495.63 L400.11 494.89 L400.65 494.31 L401.19 493.74 L401.73 493.14 L402.28 492.23 L402.82 491.32 L403.36 490.41 L403.90 489.50 L404.45 488.59 L404.99 488.62 L405.53 488.76 L406.07 488.89 L406.62 489.03 L407.16 489.16 L407.70 489.30 L408.24 489.43 L408.79 489.21 L409.33 488.67 L409.87 488.13 L410.41 487.58 L410.96 487.04 L411.50 486.50 L412.04 485.96 L412.58 485.41 L413.13 484.87 L413.67 484.72 L414.21 485.45 L414.75 486.17 L415.30 486.60 L415.84 486.78 L416.38 486.96 L416.92 487.14 L417.47 487.32 L418.01 487.50 L418.55 487.68 L419.10 487.86 L419.64 488.52 L420.18 490.60 L420.72 492.67 L421.27 494.40 L421.81 493.57 L422.35 492.75 L422.89 491.92 L423.44 491.10 L423.98 491.00 L424.52 491.00 L425.06 491.00 L425.61 491.00 L426.15 491.00 L426.69 490.87 L427.23 490.51 L427.78 490.15 L428.32 489.79 L428.86 489.42 L429.40 489.06 L429.95 488.70 L430.49 488.34 L431.03 487.99 L431.57 487.88 L432.12 487.77 L432.66 487.67 L433.20 487.56 L433.74 487.21 L434.29 486.55 L434.83 485.90 L435.37 485.25 L435.91 484.60 L436.46 481.76 L437.00 478.50 L437.54 478.32 L438.08 478.14 L438.63 477.96 L439.17 477.77 L439.71 477.59 L440.25 477.50 L440.80 477.50 L441.34 477.50 L441.88 477.50 L442.42 477.50 L442.97 477.50 L443.51 477.50 L444.05 477.50 L444.60 477.26 L445.14 475.90 L445.68 474.55 L446.22 473.19 L446.77 471.83 L447.31 470.48 L447.85 469.12 L448.39 467.77 L448.94 467.90 L449.48 468.40 L450.02 468.91 L450.56 469.41 L451.11 469.91 L451.65 472.39 L452.19 475.28 L452.73 477.79 L453.28 474.43 L453.82 471.07 L454.36 467.72 L454.90 464.90 L455.45 464.38 L455.99 463.86 L456.53 463.33 L457.07 462.81 L457.62 462.29 L458.16 461.77 L458.70 461.25 L459.24 460.72 L459.79 460.20 L460.33 458.24 L460.87 455.35 L461.41 452.46 L461.96 450.72 L462.50 449.20 L463.04 447.68 L463.58 446.16 L464.13 444.49 L464.67 442.32 L465.21 440.15 L465.75 422.19 L466.30 406.59 L466.84 407.68 L467.38 410.87 L467.93 414.93 L468.47 412.99 L469.01 405.02 L469.55 406.10 L470.10 405.76 L470.64 398.71 L471.18 391.66 L471.72 387.72 L472.27 388.26 L472.81 388.81 L473.35 393.62 L473.89 400.78 L474.44 407.95 L474.98 415.11 L475.52 421.87 L476.06 418.53 L476.61 415.19 L477.15 416.66 L477.69 420.81 L478.23 424.96 L478.78 426.45 L479.32 425.36 L479.86 424.28 L480.40 420.37 L480.95 415.48 L481.49 410.60 L482.03 405.72 L482.57 401.52 L483.12 401.70 L483.66 401.88 L484.20 405.22 L484.74 413.90 L485.29 422.58 L485.83 425.59 L486.37 424.91 L486.91 424.23 L487.46 423.55 L488.00 427.56 L488.54 434.14 L489.08 441.60 L489.63 439.07 L490.17 436.54 L490.71 435.85 L491.25 438.02 L491.80 440.19 L492.34 441.05 L492.88 441.14 L493.43 441.24 L493.97 441.33 L494.51 441.42 L495.05 441.83 L495.60 445.22 L496.14 448.61 L496.68 452.00 L497.22 455.78 L497.77 460.12 L498.31 464.46 L498.85 468.80 L499.39 468.43 L499.94 466.26 L500.48 464.09 L501.02 461.99 L501.56 461.72 L502.11 461.45 L502.65 461.17 L503.19 459.70 L503.73 456.01 L504.28 452.32 L504.82 448.63 L505.36 444.94 L505.90 443.29 L506.45 442.33 L506.99 441.37 L507.53 444.31 L508.07 449.10 L508.62 449.85 L509.16 450.61 L509.70 451.36 L510.24 449.98 L510.79 448.13 L511.33 446.28 L511.87 444.44 L512.41 443.17 L512.96 442.08 L513.50 441.00 L514.04 440.17 L514.58 442.34 L515.13 444.51 L515.67 447.24 L516.21 451.22 L516.75 455.20 L517.30 456.92 L517.84 456.79 L518.38 456.65 L518.93 456.52 L519.47 457.67 L520.01 459.02 L520.55 460.38 L521.10 461.29 L521.64 460.08 L522.18 458.88 L522.72 457.67 L523.27 457.82 L523.81 458.19 L524.35 458.56 L524.89 458.93 L525.44 460.45 L525.98 462.26 L526.52 464.07 L527.06 465.88 L527.61 467.68 L528.15 468.92 L528.69 468.65 L529.23 468.38 L529.78 468.11 L530.32 468.71 L530.86 469.94 L531.40 471.16 L531.95 472.38 L532.49 472.13 L533.03 471.72 L533.57 471.32 L534.12 470.38 L534.66 467.48 L535.20 464.59 L535.74 462.84 L536.29 462.47 L536.83 462.11 L537.37 461.75 L537.91 461.39 L538.46 461.03 L539.00 459.58 L539.54 458.05 L540.08 456.51 L540.63 454.97 L541.17 453.43 L541.71 452.99 L542.25 454.26 L542.80 455.53 L543.34 455.68 L543.88 455.17 L544.43 454.67 L544.97 454.16 L545.51 453.66 L546.05 453.15 L546.60 452.64 L547.14 452.14 L547.68 452.09 L548.22 452.95 L548.77 453.82 L549.31 454.69 L549.85 456.58 L550.39 459.02 L550.94 459.85 L551.48 460.28 L552.02 460.71 L552.56 461.15 L553.11 461.43 L553.65 461.07 L554.19 460.70 L554.73 460.58 L555.28 460.77 L555.82 460.96 L556.36 461.15 L556.90 463.14 L557.45 465.74 L557.99 466.44 L558.53 466.93 L559.07 467.41 L559.62 467.75 L560.16 467.55 L560.70 467.35 L561.24 467.15 L561.79 466.95 L562.33 466.75 L562.87 466.55 L563.41 466.46 L563.96 466.40 L564.50 466.35 L565.04 466.29 L565.58 466.24 L566.13 466.81 L566.67 469.41 L567.21 471.42 L567.76 472.51 L568.30 473.59 L568.84 473.85 L569.38 473.62 L569.93 473.39 L570.47 473.15 L571.01 472.92 L571.55 472.69 L572.10 472.64 L572.64 473.45 L573.18 474.27 L573.72 475.08 L574.27 475.64 L574.81 475.93 L575.35 476.22 L575.89 476.51 L576.44 476.80 L576.98 476.71 L577.52 475.85 L578.06 474.99 L578.61 474.12 L579.15 473.45 L579.69 473.27 L580.23 473.09 L580.78 472.91 L581.32 472.73 L581.86 472.54 L582.40 472.90 L582.95 473.44 L583.49 473.99 L584.03 474.53 L584.57 475.00 L585.12 475.00 L585.66 475.00 L586.20 474.12 L586.74 471.77 L587.29 469.42 L587.83 468.17 L588.37 467.63 L588.91 467.08 L589.46 466.54 L590.00 465.37 L590.54 464.15 L591.08 462.93 L591.63 462.01 L592.17 462.06 L592.71 462.10 L593.26 462.15 L593.80 462.20 L594.34 463.35 L594.88 464.50 L595.43 465.65 L595.97 466.80 L596.51 467.96 L597.05 469.11 L597.60 470.29 L598.14 471.46 L598.68 472.64 L599.22 473.81 L599.77 474.99 L600.31 475.40 L600.85 475.21 L601.39 475.03 L601.94 474.85 L602.48 474.67 L603.02 474.49 L603.56 474.34 L604.11 474.18 L604.65 474.03 L605.19 473.87 L605.73 473.72 L606.28 473.56 L606.82 473.18 L607.36 472.64 L607.90 472.09 L608.45 471.55 L608.99 471.01 L609.53 470.47 L610.07 469.96 L610.62 469.71 L611.16 469.45 L611.70 469.20 L612.24 468.95 L612.79 468.69 L613.33 469.00 L613.87 471.08 L614.41 473.17 L614.96 473.77 L615.50 474.10 L616.04 474.42 L616.58 474.75 L617.13 474.97 L617.67 474.83 L618.21 474.69 L618.76 474.56 L619.30 474.42 L619.84 474.29 L620.38 474.15 L620.93 474.02 L621.47 473.66 L622.01 473.27 L622.55 472.88 L623.10 472.49 L623.64 472.23 L624.18 472.35 L624.72 472.47 L625.27 472.59 L625.81 472.71 L626.35 472.83 L626.89 472.95 L627.44 473.07 L627.98 473.19 L628.52 473.17 L629.06 473.15 L629.61 473.13 L630.15 473.10 L630.69 473.08 L631.23 473.05 L631.78 473.03 L632.32 473.01 L632.86 473.48 L633.40 474.20 L633.95 474.93 L634.49 474.61 L635.03 474.17 L635.57 473.74 L636.12 473.30 L636.66 473.02 L637.20 473.08 L637.74 473.14 L638.29 473.20 L638.83 473.26 L639.37 473.32 L639.91 473.38 L640.46 473.44 L641.00 473.50 L641.54 473.63 L642.08 473.77 L642.63 473.90 L643.17 474.04 L643.71 474.18 L644.26 474.31 L644.80 474.45 L645.34 474.41 L645.88 474.28 L646.43 474.14 L646.97 474.01 L647.51 473.87 L648.05 473.73 L648.60 473.60 L649.14 473.54 L649.68 473.69 L650.22 473.84 L650.77 473.99 L651.31 474.14 L651.85 475.04 L652.39 476.34 L652.94 477.64 L653.48 478.95 L654.02 480.04 L654.56 481.13 L655.11 482.35 L655.65 484.16 L656.19 485.97 L656.73 487.47 L657.28 488.55 L657.82 489.64 L658.36 490.72 L658.90 490.64 L659.45 490.17 L659.99 489.69 L660.53 489.21 L661.07 488.84 L661.62 489.17 L662.16 489.49 L662.70 489.82 L663.24 490.36 L663.79 491.18 L664.33 491.99 L664.87 492.81 L665.41 493.14 L665.96 493.32 L666.50 493.50 L667.04 493.68 L667.59 493.86 L668.13 494.04 L668.67 494.22 L669.21 494.40 L669.76 493.92 L670.30 492.70 L670.84 491.48 L671.38 490.26 L671.93 490.14 L672.47 490.33 L673.01 490.52 L673.55 490.70 L674.10 490.89 L674.64 491.07 L675.18 491.18 L675.72 491.13 L676.27 491.09 L676.81 491.04 L677.35 490.99 L677.89 490.94 L678.44 490.89 L678.98 490.84 L679.52 490.79 L680.06 490.62 L680.61 490.44 L681.15 490.27 L681.69 490.10 L682.23 490.29 L682.78 490.97 L683.32 491.65 L683.86 492.32 L684.40 492.45 L684.95 492.38 L685.49 492.31 L686.03 492.24 L686.57 492.18 L687.12 492.11 L687.66 492.04 L688.20 492.06 L688.74 492.22 L689.29 492.38 L689.83 492.55 L690.37 492.71 L690.91 492.87 L691.46 493.04 L692.00 493.20 L692.54 493.36 L693.09 493.51 L693.63 493.56 L694.17 493.62 L694.71 493.67 L695.26 493.72 L695.80 493.78 L696.34 493.83 L696.88 493.89 L697.43 493.94 L697.97 493.99 L698.51 493.62 L699.05 493.21 L699.60 492.80 L700.14 492.48 L700.68 492.40 L701.22 492.32 L701.77 492.25 L702.31 492.17 L702.85 492.09 L703.39 492.01 L703.94 491.56 L704.48 491.02 L705.02 490.48 L705.56 489.93 L706.11 489.39 L706.65 489.15 L707.19 489.69 L707.73 490.23 L708.28 490.77 L708.82 491.02 L709.36 491.05 L709.90 491.08 L710.45 491.11 L710.99 491.14 L711.53 491.17 L712.07 491.19 L712.62 491.13 L713.16 491.06 L713.70 491.00 L714.24 490.94 L714.79 490.87 L715.33 490.81 L715.87 490.75 L716.41 490.68 L716.96 490.62 L717.50 490.56 L718.04 490.49 L718.59 490.42 L719.13 490.34 L719.67 490.26 L720.21 490.19 L720.76 490.11 L721.30 490.04 L721.84 489.96 L722.38 489.88 L722.93 489.81 L723.47 489.69 L724.01 489.57 L724.55 489.44 L725.10 489.32 L725.64 489.20 L726.18 489.07 L726.72 488.33 L727.27 486.70 L727.81 485.07 L728.35 484.18 L728.89 483.69 L729.44 483.21 L729.98 482.72 L730.52 482.23 L731.06 481.82 L731.61 482.00 L732.15 482.18 L732.69 482.36 L733.23 482.54 L733.78 482.72 L734.32 482.65 L734.86 482.40 L735.40 482.15 L735.95 481.90 L736.49 481.65 L737.03 481.40 L737.57 481.15 L738.12 480.90 L738.66 480.65 L739.20 480.55 L739.74 480.68 L740.29 480.82 L740.83 480.96 L741.37 481.09 L741.91 481.23 L742.46 481.36 L743.00 481.50 L743.54 480.85 L744.09 480.20 L744.63 479.55 L745.17 478.89 L745.71 478.37 L746.26 478.04 L746.80 477.72 L747.34 477.39 L747.88 477.07 L748.43 475.01 L748.97 472.48 L749.51 469.95 L750.05 467.56 L750.60 465.16 L751.14 462.77 L751.68 464.00 L752.22 465.70 L752.77 467.39 L753.31 466.30 L753.85 465.03 L754.39 463.75 L754.94 463.50 L755.48 463.50 L756.02 463.43 L756.56 461.81 L757.11 460.18 L757.65 459.02 L758.19 459.11 L758.73 459.20 L759.28 459.29 L759.82 459.38 L760.36 459.47 L760.90 460.51 L761.45 461.86 L761.99 463.22 L762.53 464.51 L763.07 464.64 L763.62 464.78 L764.16 464.91 L764.70 464.80 L765.24 464.25 L765.79 463.71 L766.33 463.17 L766.87 461.96 L767.41 460.44 L767.96 458.92 L768.50 457.40 L769.04 455.95 L769.59 455.35 L770.13 454.75 L770.67 454.14 L771.21 451.57 L771.76 448.38 L772.30 445.19 L772.84 440.99 L773.38 436.19 L773.93 433.39 L774.47 437.23 L775.01 441.03 L775.55 442.84 L776.10 444.65 L776.64 445.76 L777.18 444.81 L777.72 443.86 L778.27 442.91 L778.81 441.29 L779.35 439.17 L779.89 437.04 L780.44 434.92 L780.98 434.07 L781.52 435.82 L782.06 437.56 L782.61 440.81 L783.15 444.57 L783.69 448.24 L784.23 451.77 L784.78 452.12 L785.32 449.40 L785.86 446.92 L786.40 446.24 L786.95 445.56 L787.49 446.84 L788.03 448.34 L788.57 449.83 L789.12 451.11 L789.66 451.66 L790.20 452.20 L790.74 452.74 L791.29 453.29 L791.83 452.43 L792.37 450.66 L792.92 448.90 L793.46 447.14 L794.00 445.00 L794.54 442.83 L795.09 440.66 L795.63 438.87 L796.17 438.33 L796.71 437.79 L797.26 437.24 L797.80 437.59 L798.34 438.68 L798.88 439.76 L799.43 440.85 L799.97 444.98 L800.51 449.48 L801.05 448.58 L801.60 447.67 L802.14 446.77 L802.68 445.86 L803.22 445.05 L803.77 446.30 L804.31 447.56 L804.85 448.07 L805.39 448.18 L805.94 448.29 L806.48 448.39 L807.02 448.57 L807.56 450.38 L808.11 452.19 L808.65 453.35 L809.19 452.81 L809.73 452.26 L810.28 450.89 L810.82 448.72 L811.36 446.55 L811.90 446.23 L812.45 446.54 L812.99 446.85 L813.53 447.16 L814.07 447.47 L814.62 447.78 L815.16 448.00 L815.70 448.00 L816.24 448.00 L816.79 448.00 L817.33 448.00 L817.87 448.00 L818.42 448.00 L818.96 448.00 L819.50 448.00 L820.04 448.04 L820.59 448.58 L821.13 449.13 L821.67 449.67 L822.21 451.70 L822.76 456.04 L823.30 460.38 L823.84 461.94 L824.38 461.85 L824.93 461.76 L825.47 461.67 L826.01 461.58 L826.55 461.54 L827.10 461.97 L827.64 462.41 L828.18 462.84 L828.72 463.28 L829.27 463.07 L829.81 462.21 L830.35 461.35 L830.89 460.49 L831.44 460.21 L831.98 460.69 L832.52 461.18 L833.06 461.66 L833.61 462.15 L834.15 462.54 L834.69 462.70 L835.23 462.85 L835.78 463.01 L836.32 463.16 L836.86 463.32 L837.40 463.47 L837.95 464.53 L838.49 465.78 L839.03 464.18 L839.57 458.75 L840.12 454.52 L840.66 454.61 L841.20 454.70 L841.74 454.79 L842.29 454.88 L842.83 454.97 L843.37 454.92 L843.92 454.81 L844.46 454.71 L845.00 454.60 L845.54 454.56 L846.09 455.38 L846.63 456.19 L847.17 457.00 L847.71 457.60 L848.26 457.88 L848.80 458.15 L849.34 458.42 L849.88 458.69 L850.43 458.96 L850.97 459.54 L851.51 460.18 L852.05 460.81 L852.60 461.44 L853.14 462.08 L853.68 463.18 L854.22 465.21 L854.77 467.25 L855.31 469.28 L855.85 469.44 L856.39 468.57 L856.94 467.70 L857.48 466.83 L858.02 466.02 L858.56 466.56 L859.11 467.10 L859.65 467.65 L860.19 467.92 L860.73 467.70 L861.28 467.49 L861.82 467.27 L862.36 467.05 L862.90 467.23 L863.45 467.54 L863.99 467.85 L864.53 468.16 L865.07 468.47 L865.62 468.78 L866.16 469.24 L866.70 470.05 L867.24 470.87 L867.79 471.68 L868.33 471.40 L868.87 470.43 L869.42 469.45 L869.96 468.47 L870.50 467.50 L871.04 467.65 L871.59 467.81 L872.13 467.96 L872.67 468.12 L873.21 468.27 L873.76 468.43 L874.30 468.60 L874.84 468.78 L875.38 468.96 L875.93 469.14 L876.47 469.32 L877.01 469.46 L877.55 467.70 L878.10 465.94 L878.64 464.17 L879.18 462.94 L879.72 462.76 L880.27 462.58 L880.81 462.40 L881.35 462.21 L881.89 462.03 L882.44 461.13 L882.98 460.04 L883.52 458.96 L884.06 458.00 L884.61 458.00 L885.15 458.00 L885.69 458.00 L886.23 458.00 L886.78 458.27 L887.32 458.82 L887.86 459.36 L888.40 459.90 L888.95 460.44 L889.49 460.99 L890.03 458.69 L890.57 456.34 L891.12 454.50 L891.66 454.50 L892.20 454.50 L892.75 454.50 L893.29 454.50 L893.83 454.50 L894.37 454.50 L894.92 453.83 L895.46 452.97 L896.00 452.10 L896.54 451.23 L897.09 450.41 L897.63 449.87 L898.17 449.33 L898.71 448.79 L899.26 448.24 L899.80 448.35 L900.34 448.98 L900.88 449.61 L901.43 450.24 L901.97 450.88 L902.51 451.50 L903.05 451.50 L903.60 451.50 L904.14 451.50 L904.68 451.50 L905.22 451.50 L905.77 452.56 L906.31 454.73 L906.85 456.90 L907.39 457.79 L907.94 458.20 L908.48 458.61 L909.02 458.97 L909.56 458.32 L910.11 457.67 L910.65 457.02 L911.19 456.37 L911.73 456.93 L912.28 459.11 L912.82 461.28 L913.36 462.60 L913.90 463.51 L914.45 464.41 L914.99 471.11 L915.53 478.16 L916.07 480.87 L916.62 482.88 L917.16 482.34 L917.70 481.26 L918.25 479.27 L918.79 477.28 L919.33 475.90 L919.87 474.93 L920.42 473.95 L920.96 472.97 L921.50 472.00 L922.04 472.97 L922.59 473.95 L923.13 474.93 L923.67 475.90 L924.21 476.07 L924.76 474.99 L925.30 473.90 L925.84 472.82 L926.38 471.92 L926.93 471.11 L927.47 470.30 L928.01 469.48 L928.55 468.67 L929.10 468.09 L929.64 468.64 L930.18 469.18 L930.72 469.72 L931.27 470.26 L931.81 470.81 L932.35 471.35 L932.89 471.89 L933.44 471.45 L933.98 470.77 L934.52 470.10 L935.06 469.53 L935.61 469.80 L936.15 470.07 L936.69 470.34 L937.23 470.06 L937.78 469.06 L938.32 468.05 L938.86 467.04 L939.40 466.03 L939.95 465.02 L940.49 464.02 L941.03 461.07 L941.57 458.42 L942.12 457.88 L942.66 457.34 L943.20 456.80 L943.75 456.25 L944.29 455.04 L944.83 453.23 L945.37 451.42 L945.92 453.21 L946.46 456.11 L947.00 459.00 L947.54 457.48 L948.09 455.96 L948.63 454.44 L949.17 452.92 L949.71 451.94 L950.26 451.81 L950.80 451.67 L951.34 451.54 L951.88 452.52 L952.43 453.97 L952.97 455.41 L953.51 456.35 L954.05 457.25 L954.60 458.16 L955.14 457.73 L955.68 456.50 L956.22 455.26 L956.77 454.03 L957.31 452.96 L957.85 452.01 L958.39 451.06 L958.94 450.11 L959.48 450.64 L960.02 451.36 L960.56 451.98 L961.11 451.84 L961.65 451.69 L962.19 451.55 L962.73 451.40 L963.28 451.26 L963.82 452.25 L964.36 454.04 L964.90 454.44 L965.45 454.36 L965.99 454.29 L966.53 454.21 L967.07 454.13 L967.62 454.05 L968.16 453.97 L968.70 453.86 L969.25 453.75 L969.79 453.64 L970.33 453.53 L970.87 453.95 L971.42 454.60 L971.96 455.25 L972.50 455.90 L973.04 456.49 L973.59 456.40 L974.13 456.31 L974.67 456.22 L975.21 456.13 L975.76 456.04 L976.30 455.82 L976.84 455.49 L977.38 455.17 L977.93 454.84 L978.47 454.52 L979.01 454.64 L979.55 454.80 L980.10 454.95 L980.64 455.11 L981.18 455.26 L981.72 455.42 L982.27 455.50 L982.81 455.50 L983.35 455.50 L983.89 455.50 L984.44 455.50 L984.98 455.50 L985.52 454.98 L986.06 454.43 L986.61 453.89 L987.15 453.35 L987.69 452.81 L988.23 451.09 L988.78 447.84 L989.32 444.58 L989.86 442.68 L990.40 441.46 L990.95 440.24 L991.49 439.02 L992.03 440.06 L992.58 441.15 L993.12 441.79 L993.66 440.84 L994.20 439.89 L994.75 438.94 L995.29 438.56 L995.83 438.66 L996.37 438.77 L996.92 438.88 L997.46 438.99 L998.00 438.41 L998.54 437.78 L999.09 437.15 L999.63 436.52 L1000.17 435.88 L1000.71 435.82 L1001.26 436.63 L1001.80 437.45 L1002.34 438.26 L1002.88 438.75 L1003.43 439.12 L1003.97 439.48 L1004.51 439.84 L1005.05 440.20 L1005.60 440.42 L1006.14 439.97 L1006.68 439.51 L1007.22 439.06 L1007.77 438.61 L1008.31 438.16 L1008.85 440.34 L1009.39 443.96 L1009.94 447.57 L1010.48 448.09 L1011.02 448.20 L1011.56 448.31 L1012.11 448.42 L1012.65 448.42 L1013.19 448.15 L1013.73 447.88 L1014.28 447.61 L1014.82 447.34 L1015.36 447.07 L1015.90 446.40 L1016.45 445.59 L1016.99 444.79 L1017.53 443.99 L1018.08 443.18 L1018.62 443.81 L1019.16 444.88 L1019.70 445.94 L1020.25 447.00 L1020.79 447.21 L1021.33 446.67 L1021.87 446.13 L1022.42 445.58 L1022.96 445.04 L1023.50 444.76 L1024.04 444.94 L1024.59 445.12 L1025.13 445.29 L1025.67 445.47 L1026.21 445.64 L1026.76 445.82 L1027.30 446.00 L1027.84 445.04 L1028.38 444.09 L1028.93 443.13 L1029.47 442.17 L1030.01 441.21 L1030.55 440.26 L1031.10 440.00 L1031.64 440.00 L1032.18 440.00 L1032.72 440.00 L1033.27 440.00 L1033.81 440.00 L1034.35 438.47 L1034.89 436.11 L1035.44 433.75 L1035.98 431.39 L1036.52 430.57 L1037.06 429.81 L1037.61 429.06 L1038.15 428.30 L1038.69 427.55 L1039.23 426.79 L1039.78 426.32 L1040.32 425.89 L1040.86 425.46 L1041.40 425.03 L1041.95 424.60 L1042.49 424.16 L1043.03 421.92 L1043.58 418.53 L1044.12 415.14 L1044.66 414.15 L1045.20 414.37 L1045.75 414.59 L1046.29 413.83 L1046.83 412.21 L1047.37 410.58 L1047.92 408.95 L1048.46 408.70 L1049.00 408.70 L1049.54 407.24 L1050.09 403.98 L1050.63 400.73 L1051.17 397.47 L1051.71 395.67 L1052.26 394.33 L1052.80 392.98 L1053.34 391.63 L1053.88 390.29 L1054.43 393.93 L1054.97 398.94 L1055.51 400.38 L1056.05 396.23 L1056.60 392.08 L1057.14 387.93 L1057.68 386.84 L1058.22 387.05 L1058.77 387.26 L1059.31 387.47 L1059.85 387.67 L1060.39 387.88 L1060.94 388.73 L1061.48 390.40 L1062.02 392.06 L1062.56 393.73 L1063.11 395.40 L1063.65 394.25 L1064.19 391.54 L1064.73 388.79 L1065.28 385.99 L1065.82 383.01 L1066.36 375.03 L1066.90 367.05 L1067.45 359.07 L1067.99 359.51 L1068.53 360.85 L1069.08 362.19 L1069.62 360.98 L1070.16 359.02 L1070.70 357.05 L1071.25 349.28 L1071.79 341.05 L1072.33 337.06 L1072.87 333.07 L1073.42 329.07 L1073.96 325.08 L1074.50 319.07 L1075.04 311.45 L1075.59 303.82 L1076.13 294.75 L1076.67 281.01 L1077.21 267.26 L1077.76 257.18 L1078.30 251.22 L1078.84 245.25 L1079.38 250.59 L1079.93 260.63 L1080.47 287.30 L1081.01 272.64 L1081.55 257.00 L1082.10 257.00 L1082.64 257.00 L1083.18 268.44 L1083.72 275.76 L1084.27 273.26 L1084.81 273.81 L1085.35 289.06 L1085.89 303.25 L1086.44 301.16 L1086.98 299.08 L1087.52 301.87 L1088.06 304.85 L1088.61 307.84 L1089.15 306.56 L1089.69 294.08 L1090.23 286.61 L1090.78 285.70 L1091.32 284.80 L1091.86 277.43 L1092.40 266.85 L1092.95 262.76 L1093.49 260.05 L1094.03 257.33 L1094.58 252.00 L1095.12 230.30 L1095.66 213.08 L1096.20 206.57 L1096.75 202.45 L1097.29 201.22 L1097.83 200.00 L1098.37 198.78 L1098.92 196.97 L1099.46 194.98 L1100.00 192.98 L1100.54 175.15 L1101.09 162.93 L1101.63 152.98 L1102.17 143.03 L1102.71 144.64 L1103.26 164.08 L1103.80 181.51 L1104.34 189.86 L1104.88 198.21 L1105.43 204.40 L1105.97 210.01 L1106.51 215.25 L1107.05 203.04 L1107.60 191.94 L1108.14 185.97 L1108.68 183.90 L1109.22 189.60 L1109.77 189.28 L1110.31 182.72 L1110.85 174.12 L1111.39 160.26 L1111.94 146.39 L1112.48 132.53 L1113.02 124.95 L1113.56 120.20 L1114.11 134.58 L1114.65 143.80 L1115.19 139.46 L1115.73 135.12 L1116.28 133.55 L1116.82 134.64 L1117.36 135.72 L1117.91 142.47 L1118.45 151.15 L1118.99 159.84 L1119.53 168.52 L1120.08 174.70 L1120.62 165.29 L1121.16 155.89 L1121.70 147.97 L1122.25 142.54 L1122.79 137.12 L1123.33 131.69 L1123.87 128.88 L1124.42 130.85 L1124.96 133.93 L1125.50 137.00 L1126.04 139.71 L1126.59 142.43 L1127.13 143.57 L1127.67 139.63 L1128.21 135.70 L1128.76 131.77 L1129.30 126.59 L1129.84 120.41 L1130.38 114.22 L1130.93 108.04 L1131.47 101.85 L1132.01 119.71 L1132.55 137.25 L1133.10 149.71 L1133.64 148.08 L1134.18 149.99 L1134.72 158.94 L1135.27 167.90 L1135.81 176.85 L1136.35 183.51 L1136.89 188.94 L1137.44 165.04 L1137.98 147.99 L1138.52 144.10 L1139.06 140.21 L1139.61 136.32 L1140.15 136.29 L1140.69 146.42 L1141.23 156.54 L1141.78 157.52 L1142.32 149.75 L1142.86 141.97 L1143.41 135.75 L1143.95 130.05 L1144.49 133.58 L1145.03 138.10 L1145.58 145.23 L1146.12 168.56 L1146.66 188.20 L1147.20 199.05 L1147.75 209.09 L1148.29 218.13 L1148.83 227.17 L1149.37 237.46 L1149.92 248.31 L1150.46 260.07 L1151.00 271.97 L1151.54 254.21 L1152.09 269.40 L1152.63 278.65 L1153.17 268.70 L1153.71 258.75 L1154.26 261.30 L1154.80 277.85 L1155.34 280.04 L1155.88 273.75 L1156.43 267.45 L1156.97 261.16 L1157.51 255.10 L1158.05 259.84 L1158.60 267.40 L1159.14 277.30 L1159.68 287.19 L1160.22 289.56 L1160.77 281.24 L1161.31 272.92 L1161.85 271.87 L1162.39 274.77 L1162.94 277.66 L1163.48 267.45 L1164.02 255.51 L1164.56 246.06 L1165.11 255.01 L1165.65 263.97 L1166.19 272.92 L1166.73 283.40 L1167.28 295.87 L1167.82 298.07 L1168.36 293.09 L1168.91 291.89 L1169.45 296.90 L1169.99 301.91 L1170.53 292.94 L1171.08 284.50 L1171.62 280.88 L1172.16 277.26 L1172.70 282.41 L1173.25 288.25 L1173.79 289.08 L1174.33 285.46 L1174.87 281.84 L1175.42 284.88 L1175.96 289.94 L1176.50 295.00 L1177.04 293.48 L1177.59 291.96 L1178.13 290.44 L1178.67 288.92 L1179.21 289.70 L1179.76 294.05 L1180.30 298.39 L1180.84 302.73 L1181.38 304.29 L1181.93 304.71 L1182.47 306.40 L1183.01 310.93 L1183.55 314.46 L1184.10 309.03 L1184.64 303.61 L1185.18 294.55 L1185.72 278.27 L1186.27 264.66 L1186.81 253.81 L1187.35 247.45 L1187.89 243.51 L1188.44 239.58 L1188.98 235.65 L1189.52 242.41 L1190.06 249.60 L1190.61 256.79 L1191.15 259.80 L1191.69 251.84 L1192.23 243.89 L1192.78 228.90 L1193.32 216.48 L1193.86 210.51 L1194.41 211.97 L1194.95 215.95 L1195.49 219.92 L1196.03 209.34 L1196.58 200.57 L1197.12 204.69 L1197.66 208.82 L1198.20 212.94 L1198.75 217.06 L1199.29 210.36 L1199.83 194.08 L1200.37 188.38 L1200.92 187.47 L1201.46 186.57 L1202.00 190.63 L1202.54 195.10 L1203.09 199.58 L1203.63 201.33 L1204.17 194.27 L1204.71 191.38 L1205.26 194.91 L1205.80 198.44 L1206.34 201.96 L1206.88 197.88 L1207.43 190.65 L1207.97 183.41 L1208.51 177.37 L1209.05 171.40 L1209.60 170.69 L1210.14 194.30 L1210.68 209.54"/>
</g>
<g stroke="#000" stroke-width="1.11" fill="none">
<path d="M224.5 534.5V539.4"/>
<path d="M360.5 534.5V539.4"/>
<path d="M496.5 534.5V539.4"/>
<path d="M631.5 534.5V539.4"/>
<path d="M767.5 534.5V539.4"/>
<path d="M903.5 534.5V539.4"/>
<path d="M1038.5 534.5V539.4"/>
<path d="M1174.5 534.5V539.4"/>
<path d="M175.5 480.5H170.6"/>
<path d="M175.5 391.5H170.6"/>
<path d="M175.5 302.5H170.6"/>
<path d="M175.5 213.5H170.6"/>
<path d="M175.5 123.5H170.6"/>
<rect x="175.5" y="72.5" width="1085" height="462"/>
</g>
<g font-size="13.889px" text-anchor="middle">
<text x="224.32" y="554.8">0</text>
<text x="359.96" y="554.8">250</text>
<text x="495.60" y="554.8">500</text>
<text x="631.23" y="554.8">750</text>
<text x="766.87" y="554.8">1000</text>
<text x="902.51" y="554.8">1250</text>
<text x="1038.15" y="554.8">1500</text>
<text x="1173.79" y="554.8">1750</text>
</g>
<g font-size="13.889px" text-anchor="end">
<text x="165.7" y="485.58">1200</text>
<text x="165.7" y="396.32">1400</text>
<text x="165.7" y="307.07">1600</text>
<text x="165.7" y="217.82">1800</text>
<text x="165.7" y="128.57">2000</text>
</g>
<text transform="translate(717.5 64.4) scale(1 1.06)" font-size="16.667px" text-anchor="middle">Bitcoin Price Prediction</text>
<rect x="182.5" y="79.5" width="154" height="46" rx="2.78" ry="2.78" fill="#fff" fill-opacity="0.8" stroke="#ccc" stroke-opacity="0.8" stroke-width="1.389"/>
<path d="M188 91H215" stroke="#1f77b4" stroke-width="2.083" stroke-linecap="square"/>
<path d="M188 112H215" stroke="#ff7f0e" stroke-width="2.083" stroke-linecap="square"/>
<g font-size="13.889px"><text x="225.9" y="96.05">Actual Price</text><text x="225.9" y="116.44">Predicted Price</text></g>
</svg></body></html>
